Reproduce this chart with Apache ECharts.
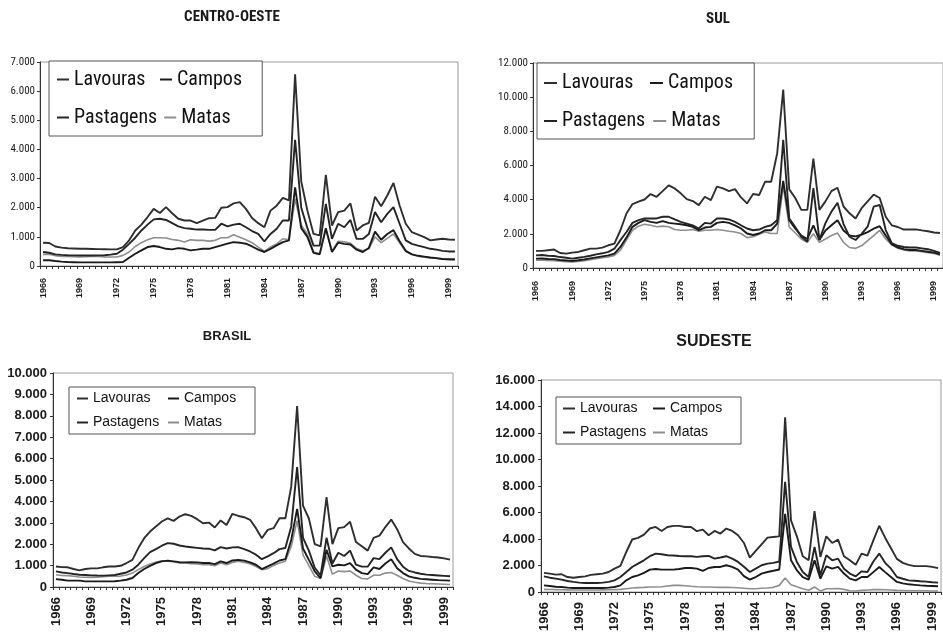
<!DOCTYPE html>
<html>
<head>
<meta charset="utf-8">
<script src="https://cdn.jsdelivr.net/npm/echarts@6/dist/echarts.min.js"></script>
<style>
  html, body { margin: 0; padding: 0; background: #ffffff; }
  #chart { width: 943px; height: 636px; }
</style>
</head>
<body>
<div id="chart"></div>
<script>
// Semesters 1966-1 .. 1999-2
const semesters = [
  '1966-1','1966-2','1967-1','1967-2','1968-1','1968-2','1969-1','1969-2','1970-1','1970-2',
  '1971-1','1971-2','1972-1','1972-2','1973-1','1973-2','1974-1','1974-2','1975-1','1975-2',
  '1976-1','1976-2','1977-1','1977-2','1978-1','1978-2','1979-1','1979-2','1980-1','1980-2',
  '1981-1','1981-2','1982-1','1982-2','1983-1','1983-2','1984-1','1984-2','1985-1','1985-2',
  '1986-1','1986-2','1987-1','1987-2','1988-1','1988-2','1989-1','1989-2','1990-1','1990-2',
  '1991-1','1991-2','1992-1','1992-2','1993-1','1993-2','1994-1','1994-2','1995-1','1995-2',
  '1996-1','1996-2','1997-1','1997-2','1998-1','1998-2','1999-1','1999-2'
];
const seriesNames = ['Lavouras', 'Campos', 'Pastagens', 'Matas'];

// CENTRO-OESTE
const coLavouras = [800,790,670,630,610,600,590,590,585,580,575,570,570,650,880,1220,1420,1680,1960,1820,2020,1810,1620,1560,1560,1470,1560,1640,1650,2000,2020,2150,2190,1960,1650,1470,1330,1900,2070,2340,2250,6580,2900,1900,1100,1050,3130,1390,1850,1900,2150,1220,1390,1480,2380,2050,2420,2850,2075,1450,1160,1080,990,880,910,935,910,900];
const coPastagens = [480,455,400,380,370,365,360,360,360,365,370,390,420,560,760,970,1220,1420,1600,1620,1580,1470,1360,1300,1280,1250,1250,1240,1240,1450,1360,1420,1450,1330,1200,1100,840,1100,1280,1560,1560,4330,2000,1300,700,700,2130,930,1450,1330,1580,930,930,1100,1850,1500,1790,2020,1450,880,760,700,650,590,560,520,500,500];
const coMatas = [400,400,350,330,330,320,310,320,340,330,310,310,310,365,480,670,800,900,970,970,960,910,880,820,900,880,880,855,880,970,970,1070,990,900,800,650,510,650,760,935,900,2300,1400,1100,480,430,1250,500,850,830,780,600,520,600,1000,800,950,1100,800,500,400,340,300,280,260,240,220,210];
const coCampos = [195,195,170,150,135,130,125,125,125,125,125,125,130,135,285,420,535,650,685,650,590,570,615,590,535,560,590,590,650,705,765,820,800,765,670,560,480,590,705,820,880,2700,1300,1000,450,400,1300,480,800,760,740,560,480,620,1180,900,1100,1230,850,520,400,350,320,290,270,240,230,230];

// SUL
const sulLavouras = [1000,1000,1040,1080,880,840,900,940,1040,1135,1135,1190,1330,1430,2210,3190,3740,3880,4010,4330,4170,4500,4840,4660,4370,4030,3920,3680,4170,3970,4760,4660,4500,4620,4130,3780,4330,4270,5050,5050,6720,10440,4600,4100,3400,3400,6400,3400,3900,4500,4700,3600,3200,2900,3500,3900,4300,4100,3000,2500,2400,2250,2250,2260,2200,2150,2080,2050];
const sulPastagens = [740,760,720,700,640,600,550,600,650,720,800,860,940,1130,1630,2110,2640,2800,2900,2900,2900,3000,3000,2840,2700,2600,2500,2310,2640,2600,2900,2900,2840,2700,2500,2310,2210,2250,2410,2500,2800,7500,2900,2400,1830,1540,4680,1640,2630,3300,3820,2570,1830,1640,2000,2420,3590,3690,2220,1460,1300,1230,1200,1200,1150,1100,1000,880];
const sulCampos = [550,560,530,520,470,440,410,450,500,560,620,680,740,840,1230,1780,2410,2640,2800,2700,2640,2740,2640,2600,2560,2500,2410,2210,2370,2410,2640,2700,2640,2500,2310,2020,1930,2020,2210,2210,2600,5100,2800,2300,1900,1700,2500,1640,2200,2500,2800,2200,1900,1850,1950,2100,2300,2450,1900,1400,1200,1100,1050,1050,1000,950,900,800];
const sulMatas = [450,460,440,430,400,370,350,380,420,480,540,600,650,740,1040,1630,2210,2450,2560,2500,2410,2450,2410,2250,2210,2210,2250,2150,2210,2210,2250,2210,2150,2110,2020,1780,1830,1980,2110,2020,2020,4800,2400,2050,1700,1500,2000,1500,1700,1900,2050,1500,1200,1150,1300,1600,1900,2200,1700,1350,1150,1050,1000,1000,950,900,850,750];

// BRASIL
const brLavouras = [960,930,920,840,780,840,870,870,920,960,960,990,1120,1270,1820,2280,2590,2830,3060,3210,3090,3290,3400,3320,3170,2980,3010,2780,3110,2900,3420,3320,3260,3140,2750,2280,2670,2750,3210,3210,4690,8450,3800,3200,2000,1900,4200,2000,2750,2800,3050,2100,1900,1700,2300,2400,2800,3150,2700,2100,1800,1550,1450,1430,1400,1380,1340,1280];
const brPastagens = [730,680,650,610,575,560,545,535,530,545,560,620,680,810,1040,1350,1630,1770,1930,2050,2020,1940,1890,1860,1830,1800,1790,1710,1860,1800,1850,1860,1770,1660,1510,1300,1430,1580,1770,1820,2830,5600,2300,1700,900,550,2300,1100,1600,1450,1700,1050,950,950,1350,1300,1600,1850,1300,950,750,680,620,580,560,540,520,500];
const brCampos = [370,340,300,300,300,265,265,265,265,265,270,300,340,420,650,840,990,1120,1200,1230,1200,1160,1150,1160,1150,1120,1120,1070,1200,1120,1240,1270,1230,1150,1040,840,960,1090,1240,1300,2200,3650,1800,1270,730,420,1740,960,1040,1010,1120,810,650,600,920,840,1100,1300,880,650,500,430,380,360,340,320,310,300];
const brMatas = [575,540,530,500,465,455,450,460,480,500,500,510,560,650,810,960,1070,1160,1230,1200,1180,1120,1120,1090,1080,1040,1040,990,1120,1040,1150,1200,1150,1090,960,810,860,1000,1120,1200,1890,3100,1500,1000,500,400,1450,600,750,720,750,550,400,380,550,550,650,680,550,400,280,220,180,160,150,140,130,120];

// SUDESTE
const seLavouras = [1440,1390,1310,1340,1130,1080,1130,1180,1290,1340,1390,1510,1760,1970,3020,3960,4080,4330,4790,4910,4610,4910,4990,4990,4910,4910,4590,4710,4280,4610,4410,4790,4610,4280,3700,2600,3100,3600,4100,4150,4200,13180,5400,4200,2700,2400,6100,2650,4200,3700,3950,2700,2400,2050,2900,2750,3900,5000,4100,3300,2500,2200,2050,1950,1950,1950,1900,1800];
const sePastagens = [1180,1080,1010,930,830,760,710,680,680,680,710,760,880,1130,1510,1890,2140,2390,2700,2900,2850,2770,2750,2720,2700,2700,2650,2700,2720,2520,2600,2700,2520,2270,1900,1510,1760,2020,2140,2200,2300,8320,3400,2270,1510,1130,3400,1260,2770,2390,2520,1760,1390,1180,1560,1510,2300,2900,2200,1760,1130,1000,880,850,810,780,740,710];
const seCampos = [500,450,400,380,330,300,300,300,300,300,300,330,380,500,880,1130,1260,1440,1690,1740,1690,1690,1690,1740,1810,1810,1760,1590,1810,1890,1890,2020,1890,1690,1200,930,1130,1390,1510,1600,1700,5900,2400,1640,1130,930,2390,1010,1940,1760,1890,1390,1010,880,1130,1130,1500,1890,1500,1130,760,650,580,540,500,470,450,430];
const seMatas = [200,190,180,170,160,150,150,150,150,150,160,170,180,200,250,300,330,350,380,380,400,450,500,500,470,430,400,380,380,360,350,350,340,320,280,240,250,280,300,350,500,1050,550,400,250,130,380,80,250,250,260,200,100,80,120,150,180,190,170,150,120,110,100,100,90,90,80,80];

const yTicksCO = { max: 7000, interval: 1000 };
const yTicksSUL = { max: 12000, interval: 2000 };
const yTicksBR = { max: 10000, interval: 1000 };
const yTicksSE = { max: 16000, interval: 2000 };

const NARROW = "'Roboto Condensed', 'Liberation Sans Narrow', 'Liberation Sans', sans-serif";
const SANS = "'Liberation Sans', Arial, sans-serif";
const colors = { Lavouras: '#2e2e2e', Campos: '#1a1a1a', Pastagens: '#242424', Matas: '#8e8e8e' };

function fmtThousands(v) {
  if (v === 0) return '0';
  return (v / 1000) + '.000';
}

const panels = [
  { title: 'CENTRO-OESTE', data: { Lavouras: coLavouras, Campos: coCampos, Pastagens: coPastagens, Matas: coMatas },
    grid: { left: 40, top: 62, width: 418, height: 204 }, y: yTicksCO,
    titlePos: { left: 232, top: 10, fontSize: 15, font: NARROW },
    yLabel: { fontSize: 11, font: NARROW, weight: 'normal', margin: 5 },
    xLabel: { fontSize: 9, font: SANS, margin: 12 },
    legend: { left: 49, top: 61, padding: [3, 2, 3, 8], w: 79, gap: 7, lh: 31, fontSize: 20, font: NARROW, iw: 12 } },
  { title: 'SUL', data: { Lavouras: sulLavouras, Campos: sulCampos, Pastagens: sulPastagens, Matas: sulMatas },
    grid: { left: 533, top: 63, width: 410, height: 205 }, y: yTicksSUL,
    titlePos: { left: 718, top: 12, fontSize: 15, font: NARROW },
    yLabel: { fontSize: 11, font: NARROW, weight: 'normal', margin: 5 },
    xLabel: { fontSize: 9, font: SANS, margin: 13 },
    legend: { left: 537, top: 63, padding: [5, 3, 3, 7], w: 80, gap: 8, lh: 30, fontSize: 20, font: NARROW, iw: 13 } },
  { title: 'BRASIL', data: { Lavouras: brLavouras, Campos: brCampos, Pastagens: brPastagens, Matas: brMatas },
    grid: { left: 53, top: 373, width: 400, height: 214 }, y: yTicksBR,
    titlePos: { left: 227, top: 330, fontSize: 13, font: SANS },
    yLabel: { fontSize: 13, font: SANS, weight: 'bold', margin: 6 },
    xLabel: { fontSize: 13, font: SANS, margin: 10 },
    legend: { left: 69, top: 387, padding: [2, 1, 2, 8], w: 70, gap: 5, lh: 19, fontSize: 14, font: SANS, iw: 11 } },
  { title: 'SUDESTE', data: { Lavouras: seLavouras, Campos: seCampos, Pastagens: sePastagens, Matas: seMatas },
    grid: { left: 541, top: 380, width: 400, height: 212 }, y: yTicksSE,
    titlePos: { left: 714, top: 334, fontSize: 16, font: SANS },
    yLabel: { fontSize: 13, font: SANS, weight: 'bold', margin: 6 },
    xLabel: { fontSize: 13, font: SANS, margin: 10 },
    legend: { left: 556, top: 397, padding: [2, 3, 2, 7], w: 68, gap: 5, lh: 19, fontSize: 14, font: SANS, iw: 12 } }
];

const option = {
  animation: false,
  backgroundColor: '#ffffff',
  title: [], grid: [], xAxis: [], yAxis: [], legend: [], series: []
};

panels.forEach((p, k) => {
  option.title.push({
    text: p.title, left: p.titlePos.left, top: p.titlePos.top, textAlign: 'center', padding: 0,
    textStyle: { fontFamily: p.titlePos.font, fontSize: p.titlePos.fontSize, fontWeight: 'bold', color: '#1a1a1a' }
  });
  option.grid.push(Object.assign({ show: true, borderColor: '#9a9a9a', borderWidth: 1, backgroundColor: 'transparent' }, p.grid));
  option.xAxis.push({
    type: 'category', gridIndex: k, data: semesters, boundaryGap: true,
    axisLine: { show: true, lineStyle: { color: '#333', width: 1 } },
    axisTick: { show: true, interval: 0, length: 3, lineStyle: { color: '#333' } },
    axisLabel: {
      interval: 5, rotate: 90, margin: p.xLabel.margin, color: '#1a1a1a',
      fontFamily: p.xLabel.font, fontSize: p.xLabel.fontSize, fontWeight: 'bold',
      formatter: v => v.slice(0, 4)
    },
    splitLine: { show: false }
  });
  option.yAxis.push({
    type: 'value', gridIndex: k, min: 0, max: p.y.max, interval: p.y.interval,
    axisLine: { show: true, lineStyle: { color: '#333', width: 1 } },
    axisTick: { show: true, length: 3, lineStyle: { color: '#333' } },
    axisLabel: { margin: p.yLabel.margin, color: '#1a1a1a', fontFamily: p.yLabel.font, fontSize: p.yLabel.fontSize, fontWeight: p.yLabel.weight, formatter: fmtThousands },
    splitLine: { show: false }
  });
  const L = p.legend;
  option.legend.push({
    left: L.left, top: L.top, orient: 'horizontal', width: 2 * (L.iw + 5 + L.w) + L.gap + 30,
    padding: L.padding, borderColor: '#555', borderWidth: 1, backgroundColor: '#fff',
    itemWidth: L.iw, itemHeight: 2, icon: 'rect', itemGap: L.gap, selectedMode: false,
    data: ['Lavouras', 'Campos', 'Pastagens', 'Matas'],
    formatter: name => '{t|' + name + '}',
    textStyle: {
      color: '#111',
      rich: { t: { width: L.w, lineHeight: L.lh, height: L.lh, fontSize: L.fontSize, fontFamily: L.font, color: '#111', verticalAlign: 'middle' } }
    }
  });
  ['Matas', 'Campos', 'Pastagens', 'Lavouras'].forEach(name => {
    option.series.push({
      name: name, type: 'line', xAxisIndex: k, yAxisIndex: k,
      data: p.data[name], symbol: 'none', showSymbol: false,
      color: colors[name],
      lineStyle: { color: colors[name], width: name === 'Matas' ? 1.6 : 1.9 },
      emphasis: { disabled: true }
    });
  });
});

const chart = echarts.init(document.getElementById('chart'), null, { renderer: 'canvas' });
chart.setOption(option);
</script>
</body>
</html>
